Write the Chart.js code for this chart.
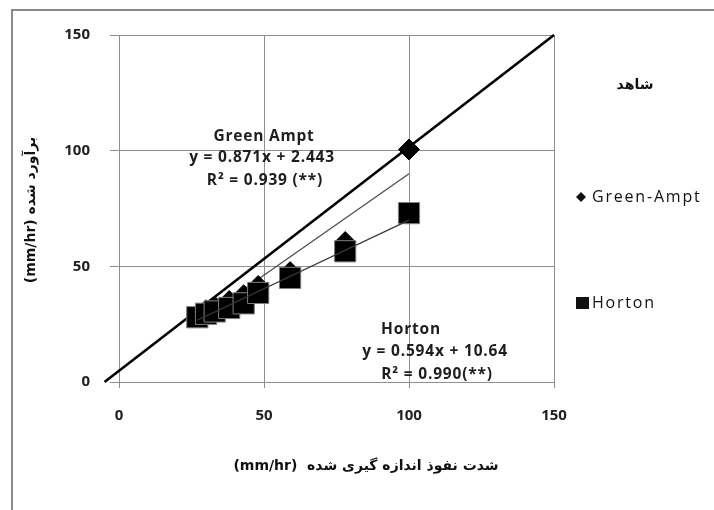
<!DOCTYPE html>
<html><head><meta charset="utf-8">
<script src="https://cdn.jsdelivr.net/npm/chart.js@4"></script>
<style>html,body{margin:0;padding:0;background:#fff;overflow:hidden}</style>
</head><body>
<canvas id="c" width="714" height="510"></canvas>
<script>
// ---- data ----
const measured      = [27, 30, 33, 38, 43, 48, 59, 78, 100];          // measured infiltration (mm/hr)
const greenAmpt     = [29, 31, 32.5, 35, 37.5, 41.5, 47.5, 60.5, 100.5];
const horton        = [28, 29.5, 30.5, 32, 34, 38.5, 45, 56.5, 73];
const witnessX      = [-5, 150];
const witnessY      = [0, 150];
const gaTrendX      = [27, 100];
const gaTrendY      = [26, 90];
const hortonTrendX  = [27, 100];
const hortonTrendY  = [26.7, 70];
const axisTicks     = [0, 50, 100, 150];
const seriesNames   = ['شاهد', 'Green-Ampt', 'Horton'];

const pts = (xs, ys) => xs.map((x, i) => ({x: x, y: ys[i]}));

const GRID = '#8e8e8e';
const TICKFONT = {family: 'Open Sans', size: 15, weight: 'bold'};

const overlay = {
  id: 'overlay',
  beforeDraw(chart) {
    const ctx = chart.ctx;
    ctx.save();
    ctx.fillStyle = '#fff';
    ctx.fillRect(0, 0, chart.width, chart.height);
    ctx.restore();
  },
  afterDraw(chart) {
    const ctx = chart.ctx;
    ctx.save();
    // outer frame
    ctx.strokeStyle = '#8a8a8a';
    ctx.lineWidth = 2;
    ctx.strokeRect(12, 10, 760, 560);

    // trendline labels
    ctx.fillStyle = '#1e1e1e';
    ctx.textAlign = 'center';
    ctx.textBaseline = 'middle';
    ctx.font = 'bold 15.5px "Open Sans"';
    try { ctx.letterSpacing = '0.8px'; } catch (e) {}
    ctx.fillText('Green Ampt', 264, 137);
    ctx.fillText('y = 0.871x + 2.443', 262, 158);
    ctx.fillText('R² = 0.939 (**)', 265, 181);
    ctx.fillText('Horton', 411, 330);
    ctx.fillText('y = 0.594x + 10.64', 435, 352);
    ctx.fillText('R² = 0.990(**)', 437, 375);

    // legend
    ctx.textAlign = 'left';
    ctx.font = '16px "Open Sans"';
    try { ctx.letterSpacing = '1.8px'; } catch (e) {}
    ctx.fillStyle = '#111';
    ctx.fillText(seriesNames[1], 592, 197);
    ctx.fillText(seriesNames[2], 592, 303);
    try { ctx.letterSpacing = '0px'; } catch (e) {}
    // legend markers
    ctx.beginPath();
    ctx.moveTo(581, 192); ctx.lineTo(586, 197); ctx.lineTo(581, 202); ctx.lineTo(576, 197); ctx.closePath();
    ctx.fill();
    ctx.fillRect(576, 297, 13, 12);

    // persian texts
    ctx.direction = 'rtl';
    ctx.textAlign = 'center';
    ctx.font = 'bold 14px "DejaVu Sans"';
    ctx.fillText(seriesNames[0], 635, 85);

    ctx.font = 'bold 14px "DejaVu Sans"';
    ctx.fillText('شدت نفوذ اندازه گیری شده  (mm/hr)', 366, 466);

    ctx.translate(31, 210);
    ctx.rotate(-Math.PI / 2);
    ctx.fillText('برآورد شده (mm/hr)', 0, 0);
    ctx.restore();
  }
};

new Chart(document.getElementById('c'), {
  type: 'scatter',
  data: {
    datasets: [
      {label: 'Horton', data: pts(measured, horton), pointStyle: 'rect', pointRadius: 15,
       backgroundColor: '#000', borderColor: '#808080', borderWidth: 1, order: 1},
      {label: 'Green-Ampt', data: pts(measured, greenAmpt), pointStyle: 'rectRot', pointRadius: 10.5,
       backgroundColor: '#000', borderColor: '#000', borderWidth: 1, order: 2},
      {label: 'gaTrend', data: pts(gaTrendX, gaTrendY), showLine: true, pointRadius: 0,
       borderColor: '#4a4a4a', borderWidth: 1.2, order: 3},
      {label: 'hortonTrend', data: pts(hortonTrendX, hortonTrendY), showLine: true, pointRadius: 0,
       borderColor: '#3a3a3a', borderWidth: 1.3, order: 0},
      {label: seriesNames[0], data: pts(witnessX, witnessY), showLine: true, pointRadius: 0,
       borderColor: '#000', borderWidth: 2.6, clip: false, order: 4}
    ]
  },
  options: {
    responsive: false,
    animation: false,
    devicePixelRatio: 1,
    layout: {padding: {left: 59, top: 35, right: 160, bottom: 68}},
    plugins: {legend: {display: false}, tooltip: {enabled: false}},
    scales: {
      x: {
        min: 0, max: 150,
        afterBuildTicks: s => { s.ticks = axisTicks.map(v => ({value: v})); },
        afterFit: s => { s.height = 60; },
        grid: {color: GRID, lineWidth: 1, tickLength: 6, tickColor: GRID},
        border: {color: GRID, width: 1},
        ticks: {font: TICKFONT, color: '#222', padding: 19, maxRotation: 0}
      },
      y: {
        min: 0, max: 150,
        afterBuildTicks: s => { s.ticks = axisTicks.map(v => ({value: v})); },
        afterFit: s => { s.width = 60; },
        grid: {color: GRID, lineWidth: 1, tickLength: 9, tickColor: GRID},
        border: {color: GRID, width: 1},
        ticks: {font: TICKFONT, color: '#222', padding: 20}
      }
    }
  },
  plugins: [overlay]
});
</script>
</body></html>
